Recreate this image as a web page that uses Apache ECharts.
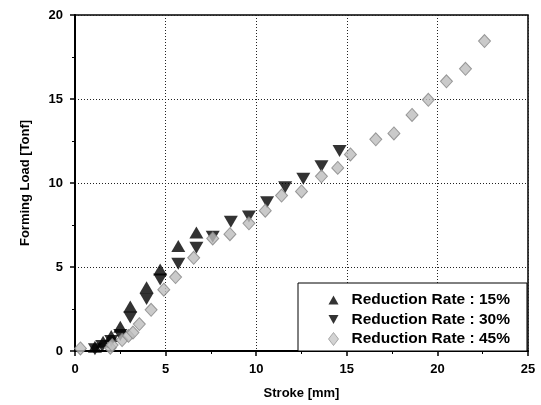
<!DOCTYPE html>
<html>
<head>
<meta charset="utf-8">
<script src="https://cdn.jsdelivr.net/npm/echarts@6/dist/echarts.min.js"></script>
<style>
html,body{margin:0;padding:0;background:#fff;}
#c{width:541px;height:405px;}
</style>
</head>
<body>
<div id="c"></div>
<script>
var xTicks = [0, 5, 10, 15, 20, 25];
var yTicks = [0, 5, 10, 15, 20];
var seriesNames = ['Reduction Rate : 15%', 'Reduction Rate : 30%', 'Reduction Rate : 45%'];

var rate15 = [
  [1.1, 0.25], [1.55, 0.55], [2.0, 0.9], [2.5, 1.45], [3.05, 2.65],
  [3.95, 3.8], [4.7, 4.85], [5.7, 6.25], [6.7, 7.05]
];
var rate30 = [
  [1.1, 0.1], [1.5, 0.3], [2.0, 0.6], [2.5, 0.95], [3.05, 2.0],
  [3.95, 3.1], [4.7, 4.25], [5.7, 5.2], [6.7, 6.15], [7.6, 6.8],
  [8.6, 7.7], [9.6, 8.0], [10.6, 8.85], [11.6, 9.75], [12.6, 10.25],
  [13.6, 11.0], [14.6, 11.9]
];
var rate45 = [
  [0.3, 0.15], [1.95, 0.2], [2.05, 0.35], [2.6, 0.65], [2.95, 0.9],
  [3.2, 1.1], [3.55, 1.6], [4.2, 2.45], [4.9, 3.65], [5.55, 4.4],
  [6.55, 5.55], [7.6, 6.7], [8.55, 6.95], [9.6, 7.6], [10.5, 8.35],
  [11.4, 9.25], [12.5, 9.5], [13.6, 10.4], [14.5, 10.9], [15.2, 11.7],
  [16.6, 12.6], [17.6, 12.95], [18.6, 14.05], [19.5, 14.95], [20.5, 16.05],
  [21.55, 16.8], [22.6, 18.45]
];

var FONT = '"Liberation Sans", Arial, sans-serif';
var downTri = 'path://M0,0 L10,0 L5,9 Z';
var upTri = 'path://M5,0 L10,9 L0,9 Z';

var chart = echarts.init(document.getElementById('c'), null, {renderer: 'canvas'});
chart.setOption({
  animation: false,
  backgroundColor: '#fff',
  grid: {
    left: 75, right: 13, top: 15, bottom: 52,
    show: true, borderColor: '#000', borderWidth: 1.5, backgroundColor: 'transparent'
  },
  legend: {
    orient: 'vertical',
    left: 298, top: 283,
    padding: [9, 17, 4, 30],
    itemGap: 3.5,
    itemWidth: 10, itemHeight: 13,
    borderColor: '#000', borderWidth: 1,
    backgroundColor: '#fff',
    textStyle: {fontFamily: FONT, fontWeight: 'bold', fontSize: 15.5, color: '#000', padding: [0, 0, 0, 8]},
    data: [
      {name: seriesNames[0], icon: upTri, itemStyle: {color: '#000'}},
      {name: seriesNames[1], icon: downTri, itemStyle: {color: '#000'}},
      {name: seriesNames[2], icon: 'diamond', itemStyle: {color: '#c8c8c8', borderColor: '#999', borderWidth: 1}}
    ]
  },
  xAxis: {
    type: 'value', min: 0, max: 25, interval: 5,
    name: 'Stroke [mm]', nameLocation: 'middle', nameGap: 36,
    nameTextStyle: {fontFamily: FONT, fontWeight: 'bold', fontSize: 13, color: '#000'},
    axisLine: {show: true, onZero: false, lineStyle: {color: '#000', width: 2}},
    axisTick: {show: true, length: 5, lineStyle: {color: '#000', width: 1.5}},
    minorTick: {show: true, splitNumber: 2, length: 3, lineStyle: {color: '#000', width: 1}},
    axisLabel: {fontFamily: FONT, fontWeight: 'bold', fontSize: 13, color: '#000', margin: 12,
      formatter: function (v) { return xTicks.indexOf(v) >= 0 ? String(v) : ''; }},
    splitLine: {show: true, lineStyle: {color: '#222', type: [1, 2], width: 1}}
  },
  yAxis: {
    type: 'value', min: 0, max: 20, interval: 5,
    name: 'Forming Load [Tonf]', nameLocation: 'middle', nameGap: 43, nameRotate: 90,
    nameTextStyle: {fontFamily: FONT, fontWeight: 'bold', fontSize: 13, color: '#000'},
    axisLine: {show: true, onZero: false, lineStyle: {color: '#000', width: 2}},
    axisTick: {show: true, length: 5, lineStyle: {color: '#000', width: 1.5}},
    minorTick: {show: true, splitNumber: 2, length: 3, lineStyle: {color: '#000', width: 1}},
    axisLabel: {fontFamily: FONT, fontWeight: 'bold', fontSize: 13, color: '#000', margin: 12,
      formatter: function (v) { return yTicks.indexOf(v) >= 0 ? String(v) : ''; }},
    splitLine: {show: true, lineStyle: {color: '#222', type: [1, 2], width: 1}}
  },
  series: [
    {
      name: seriesNames[0], type: 'scatter', data: rate15,
      symbol: upTri, symbolSize: [14, 12],
      itemStyle: {color: '#000'}
    },
    {
      name: seriesNames[1], type: 'scatter', data: rate30,
      symbol: downTri, symbolSize: [14, 12],
      itemStyle: {color: '#000'}
    },
    {
      name: seriesNames[2], type: 'scatter', data: rate45,
      symbol: 'diamond', symbolSize: [12, 13],
      itemStyle: {color: '#bdbdbd', borderColor: '#858585', borderWidth: 1}
    }
  ]
});
</script>
</body>
</html>
